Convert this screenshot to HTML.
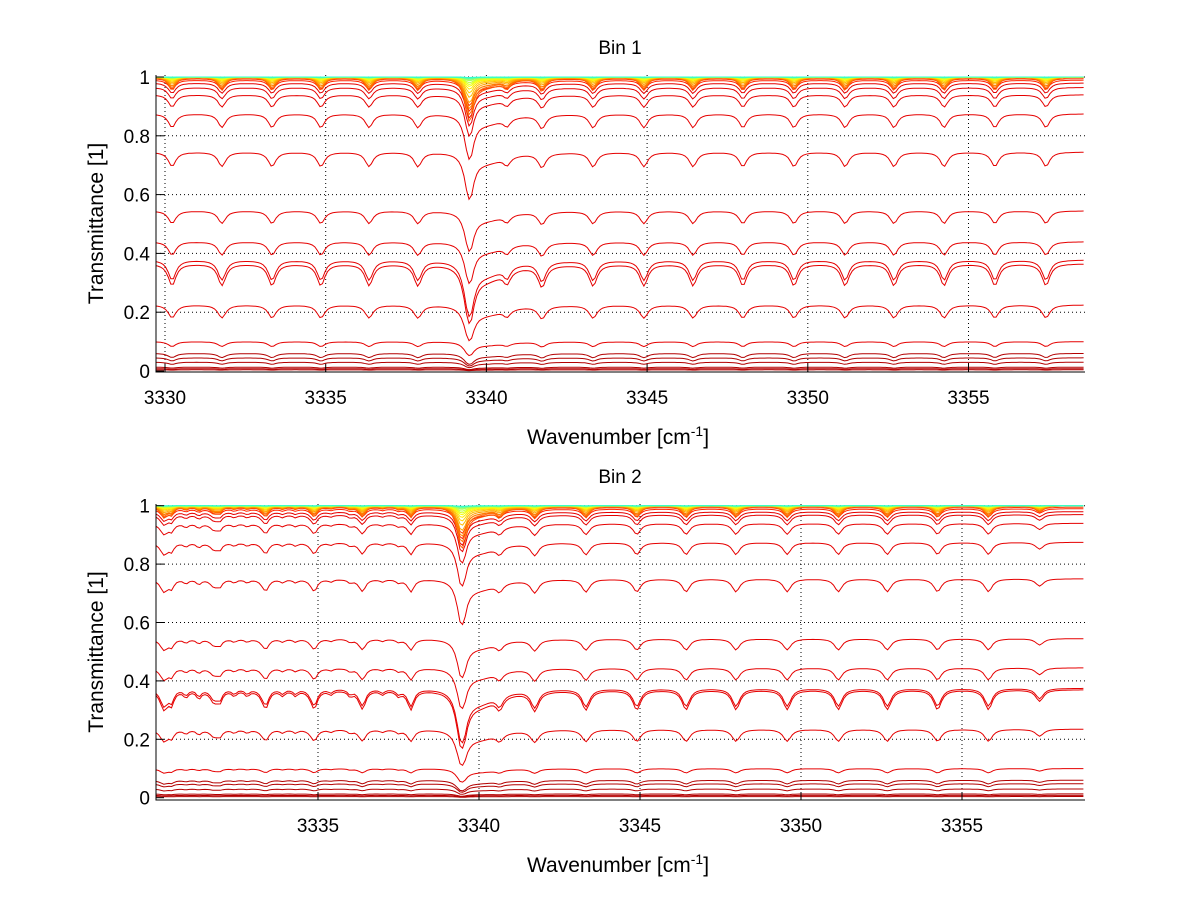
<!DOCTYPE html>
<html><head><meta charset="utf-8">
<style>
body{margin:0;background:#fff;}
svg{display:block;font-family:"Liberation Sans",Arial,sans-serif;}
</style></head>
<body>
<svg id="fig" width="1200" height="901" viewBox="0 0 1200 901"></svg>
<script>
// ---- data ----
const xTicks1 = [3330, 3335, 3340, 3345, 3350, 3355];
const xTicks2 = [3335, 3340, 3345, 3350, 3355];
const yTicks = [0, 0.2, 0.4, 0.6, 0.8, 1];
const yTickLabels = ["0", "0.2", "0.4", "0.6", "0.8", "1"];
// absorption line centres [cm^-1], strengths and half-widths
const lineNu = [3330.22, 3331.77, 3333.33, 3334.85, 3336.35, 3337.87, 3339.46, 3340.0, 3340.64, 3341.73, 3343.32, 3344.90, 3346.43, 3347.98, 3349.57, 3351.16, 3352.68, 3354.24, 3355.82, 3357.41];
const lineWidth = [0.14, 0.14, 0.14, 0.14, 0.14, 0.14, 0.15, 0.7, 0.12, 0.14, 0.14, 0.14, 0.14, 0.14, 0.14, 0.14, 0.14, 0.14, 0.14, 0.14];
const lineStrength1 = [0.9, 0.9, 0.9, 0.9, 0.9, 0.9, 3.2, 0.6, 0.5, 0.9, 0.9, 0.9, 0.9, 0.9, 0.9, 0.9, 0.9, 0.9, 0.9, 0.9];
const lineStrength2 = [0.8, 0.45, 0.45, 0.45, 0.45, 0.45, 3.2, 0.6, 0.5, 0.8, 0.8, 0.8, 0.8, 0.8, 0.8, 0.8, 0.8, 0.8, 0.8, 0.45];
const extraNu2 = [3330.45, 3330.9, 3331.3, 3331.95, 3332.4, 3332.8, 3333.4, 3333.9, 3334.3, 3334.9, 3335.4, 3336.0, 3336.4, 3337.0, 3337.5, 3337.9];
const extraStrength2 = [0.5, 0.25, 0.3, 0.4, 0.2, 0.2, 0.35, 0.2, 0.2, 0.35, 0.15, 0.2, 0.35, 0.15, 0.2, 0.35];
// per-curve continuum levels and absorption depths
const levels1 = [0.004, 0.008, 0.013, 0.03, 0.045, 0.06, 0.10, 0.225, 0.365, 0.378, 0.44, 0.545, 0.745, 0.875, 0.94, 0.965, 0.98, 0.99, 0.995, 1, 1, 1, 1, 1, 1, 1, 1, 1, 1, 1, 1, 1, 1, 1, 1];
const depths1 = [0.3, 0.3, 0.3, 0.3, 0.3, 0.3, 0.2, 0.24, 0.25, 0.22, 0.12, 0.09, 0.075, 0.06, 0.05, 0.045, 0.04, 0.035, 0.03, 0.05, 0.042, 0.035, 0.028, 0.022, 0.017, 0.013, 0.01, 0.008, 0.006, 0.004, 0.003, 0.002, 0.0015, 0.001, 0.0005];
const levels2 = [0.004, 0.008, 0.013, 0.03, 0.048, 0.06, 0.10, 0.235, 0.37, 0.375, 0.445, 0.545, 0.75, 0.875, 0.94, 0.97, 0.98, 0.99, 0.995, 1, 1, 1, 1, 1, 1, 1, 1, 1, 1, 1, 1, 1, 1, 1, 1];
const depths2 = [0.3, 0.3, 0.3, 0.3, 0.3, 0.3, 0.2, 0.24, 0.25, 0.22, 0.12, 0.09, 0.075, 0.06, 0.05, 0.045, 0.04, 0.035, 0.03, 0.05, 0.042, 0.035, 0.028, 0.022, 0.017, 0.013, 0.01, 0.008, 0.006, 0.004, 0.003, 0.002, 0.0015, 0.001, 0.0005];

const NS = "http://www.w3.org/2000/svg";
const svg = document.getElementById("fig");
function mk(tag, attrs, parent) {
  const e = document.createElementNS(NS, tag);
  for (const k in attrs) e.setAttribute(k, attrs[k]);
  (parent || svg).appendChild(e);
  return e;
}
function jet(t) {
  const c = v => Math.max(0, Math.min(1, v));
  const r = c(1.5 - Math.abs(4 * t - 3)), g = c(1.5 - Math.abs(4 * t - 2)), b = c(1.5 - Math.abs(4 * t - 1));
  return `rgb(${Math.round(r * 255)},${Math.round(g * 255)},${Math.round(b * 255)})`;
}
function tau(nu, strengths, exNu, exS) {
  let s = 0;
  for (let i = 0; i < lineNu.length; i++) {
    let d = (nu - lineNu[i]) / lineWidth[i];
    if (i === 7 && nu < 3339.5) d *= 6;
    s += strengths[i] / (1 + d * d);
  }
  if (exNu) for (let i = 0; i < exNu.length; i++) {
    const d = (nu - exNu[i]) / 0.09;
    s += exS[i] / (1 + d * d);
  }
  return s;
}

function panel(cfg) {
  const g = mk("g", {});
  
  
  const X = nu => cfg.x0 + (nu - cfg.nuRef) * cfg.pxPer;
  const Y = v => cfg.y0 - v * cfg.yPer;
  const L = cfg.left, R = cfg.right, T = cfg.top, B = cfg.bottom;
  yTicks.forEach(v => {
    if (v === 0) return;
    const l = mk("line", {x1: L, x2: R, y1: Y(v), y2: Y(v), stroke: "#000", "stroke-width": 1, "stroke-dasharray": "1,3"}, g);
    
    
  });
  cfg.xTicks.forEach(v => {
    const l = mk("line", {x1: X(v), x2: X(v), y1: T, y2: B, stroke: "#000", "stroke-width": 1, "stroke-dasharray": "1,3"}, g);
    
    
  });
  const clipId = cfg.name + "-clip";
  const cp = mk("clipPath", {id: clipId}, g);
  mk("rect", {x: L, y: T - 2, width: R - L, height: B - T + 2}, cp);
  const cg = mk("g", {"clip-path": `url(#${clipId})`}, g);
  const n = cfg.levels.length;
  const tauVals = [];
  for (let nu = cfg.nuMin; nu <= cfg.nuMax + 1e-9; nu += 0.08) tauVals.push([nu, tau(nu, cfg.strengths, cfg.exNu, cfg.exS)]);
  for (let i = 0; i < n; i++) {
    let d = "";
    tauVals.forEach(([nu, t], j) => {
      const v = cfg.levels[i] * Math.exp(-cfg.depths[i] * t);
      d += (j ? "L" : "M") + X(nu).toFixed(1) + "," + Y(v).toFixed(1);
    });
    let tt;
    if (i < 6) tt = 0.95;
    else if (i < 17) tt = 0.9;
    else tt = 0.84 - ((i - 17) / (n - 18)) * 0.42;
    const p = mk("path", {d: d, fill: "none", stroke: jet(tt), "stroke-width": 1}, cg);
    
    
  }
  const ax = mk("path", {d: `M${L},${T}L${L},${B}L${R},${B}`, fill: "none", stroke: "#000", "stroke-width": 1}, g);
  
  
  yTicks.forEach((v, i) => {
    mk("line", {x1: L, x2: L + 8, y1: Y(v), y2: Y(v), stroke: "#000"}, g);
    const t = mk("text", {x: L - 6, y: Y(v) + 7, "text-anchor": "end", "font-size": 19}, g);
    t.textContent = yTickLabels[i];
    
    
  });
  cfg.xTicks.forEach(v => {
    mk("line", {x1: X(v), x2: X(v), y1: B, y2: B - 8, stroke: "#000"}, g);
    const t = mk("text", {x: X(v), y: B + 32, "text-anchor": "middle", "font-size": 19}, g);
    t.textContent = String(v);
    
    
  });
  const title = mk("text", {x: 620, y: T - 21, "text-anchor": "middle", "font-size": 19}, g);
  title.textContent = cfg.title;
  
  
  const xl = mk("text", {x: 618, y: B + 72, "text-anchor": "middle", "font-size": 21}, g);
  xl.innerHTML = 'Wavenumber [cm<tspan dy="-8" font-size="14">-1</tspan><tspan dy="8">]</tspan>';
  
  
  const yl = mk("text", {x: 0, y: 0, "text-anchor": "middle", "font-size": 21, transform: `translate(103,${(T + B) / 2}) rotate(-90)`}, g);
  yl.textContent = "Transmittance [1]";
  
  
}

panel({name: "bin-1-panel", title: "Bin 1", x0: 165, nuRef: 3330, pxPer: 32.14, y0: 371, yPer: 294,
  left: 156, right: 1085, top: 75, bottom: 372, xTicks: xTicks1, nuMin: 3329.7, nuMax: 3358.62,
  levels: levels1, depths: depths1, strengths: lineStrength1});
panel({name: "bin-2-panel", title: "Bin 2", x0: 479, nuRef: 3340, pxPer: 32.2, y0: 797.7, yPer: 292,
  left: 156, right: 1085, top: 504, bottom: 800, xTicks: xTicks2, nuMin: 3329.97, nuMax: 3358.82,
  levels: levels2, depths: depths2, strengths: lineStrength2, exNu: extraNu2, exS: extraStrength2});
</script>
</body></html>
